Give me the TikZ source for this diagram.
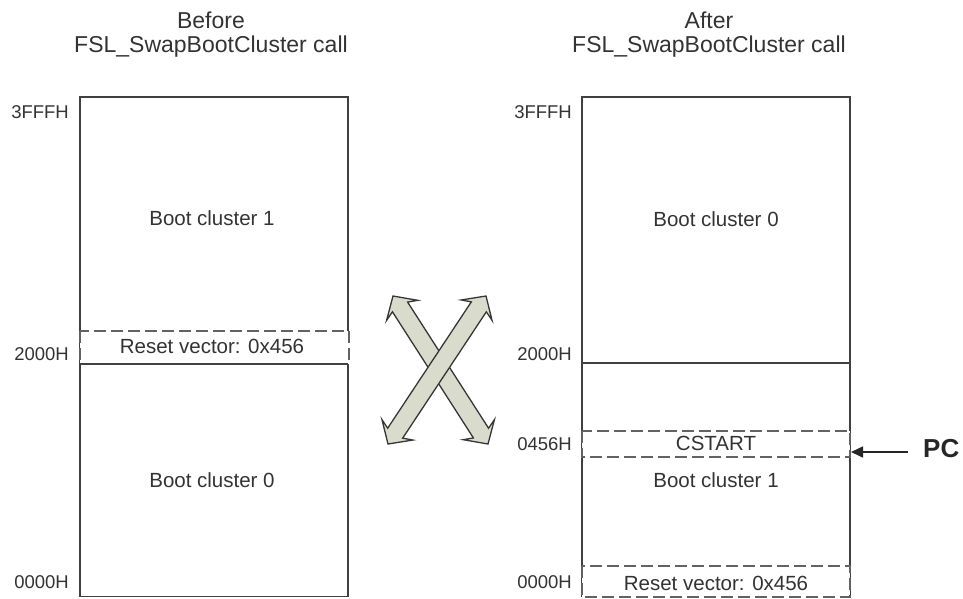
\documentclass[tikz,border=0pt]{standalone}
\usepackage{fontspec}
\setmainfont{Liberation Sans}
\usetikzlibrary{calc,arrows.meta}
\definecolor{linegray}{HTML}{404040}
\definecolor{textgray}{HTML}{333333}
\definecolor{dashgray}{HTML}{626262}
\definecolor{xfill}{HTML}{D9DCCD}
\definecolor{xline}{HTML}{363636}
\newcommand{\hl}{17pt}
\newcommand{\hw}{18.5pt}
\newcommand{\hj}{13pt}
\newcommand{\sw}{9pt}
\newcommand{\dblarrow}[2]{%
\filldraw[xarrow]
 (#1)
 -- ($($(#1)!\hl!(#2)$)!\hw!90:(#2)$)
 -- ($($(#1)!\hj!(#2)$)!\sw!90:(#2)$)
 -- ($($(#2)!\hj!(#1)$)!\sw!-90:(#1)$)
 -- ($($(#2)!\hl!(#1)$)!\hw!-90:(#1)$)
 -- (#2)
 -- ($($(#2)!\hl!(#1)$)!\hw!90:(#1)$)
 -- ($($(#2)!\hj!(#1)$)!\sw!90:(#1)$)
 -- ($($(#1)!\hj!(#2)$)!\sw!-90:(#2)$)
 -- ($($(#1)!\hl!(#2)$)!\hw!-90:(#2)$)
 -- cycle;}
\begin{document}
\begin{tikzpicture}[x=1pt,y=-1pt,
  memline/.style={draw=linegray,line width=1.8pt},
  dashbox/.style={draw=dashgray,line width=2.9pt,dash pattern=on 12pt off 5pt,fill=white},
  xarrow/.style={fill=xfill,draw=xline,line width=1.3pt,line join=miter},
  title/.style={text=textgray,font=\fontsize{23}{27}\selectfont,anchor=base,inner sep=0pt},
  body/.style={text=textgray,font=\fontsize{20.5}{24}\selectfont,anchor=base,inner sep=0pt},
  addr/.style={text=textgray,font=\fontsize{18.5}{22}\selectfont,anchor=base east,inner sep=0pt},
  pclabel/.style={text=black!85,font=\fontsize{26}{30}\selectfont\bfseries,anchor=base west,inner sep=0pt},
  pcarrow/.style={draw=black!85,line width=1.6pt,-{Triangle[length=12pt,width=11pt]}}
]
\useasboundingbox (0,0) rectangle (963,598);
% titles
\node[title] (t1a) at (211,28) {Before};
\node[title] (t1b) at (211,52) {FSL\_SwapBootCluster call};
\node[title] (t2a) at (709,28) {After};
\node[title] (t2b) at (709,52) {FSL\_SwapBootCluster call};
% left memory map
\draw[memline] (80,97) rectangle (348,596.5);
\filldraw[dashbox] (80,331) rectangle (349,364);
\draw[memline] (80,364) -- (348,364);
\node[body] (lrv) at (212,353) {Reset vector: 0x456};
\node[body] (lbc1) at (212,225) {Boot cluster 1};
\node[body] (lbc0) at (212,487) {Boot cluster 0};
\node[addr] (la1) at (69,118) {3FFFH};
\node[addr] (la2) at (69,360) {2000H};
\node[addr] (la3) at (69,588) {0000H};
% right memory map
\draw[memline] (582,97) rectangle (850,596.5);
\draw[memline] (582,363) -- (850,363);
\filldraw[dashbox] (582,431) rectangle (850,457);
\filldraw[dashbox] (582,566) rectangle (850,597);
\node[body] (cst) at (716,450) {CSTART};
\node[body] (rbc0) at (716,226) {Boot cluster 0};
\node[body] (rbc1) at (716,487) {Boot cluster 1};
\node[body] (rrv) at (716,590) {Reset vector: 0x456};
\node[addr] (ra1) at (572,118) {3FFFH};
\node[addr] (ra2) at (572,360) {2000H};
\node[addr] (ra3) at (572,450) {0456H};
\node[addr] (ra4) at (572,588) {0000H};
% PC pointer
\node[pclabel] (pc) at (923,457) {PC};
\coordinate (pctip) at (851,452);
\coordinate (pctail) at (908,452);
\draw[pcarrow] (pctail) -- (pctip);
% swap cross
\coordinate (xa1) at (393,296);
\coordinate (xb1) at (488,444);
\coordinate (xa2) at (486,296);
\coordinate (xb2) at (388,444);
\dblarrow{xa1}{xb1}
\dblarrow{xa2}{xb2}
\end{tikzpicture}
\end{document}
